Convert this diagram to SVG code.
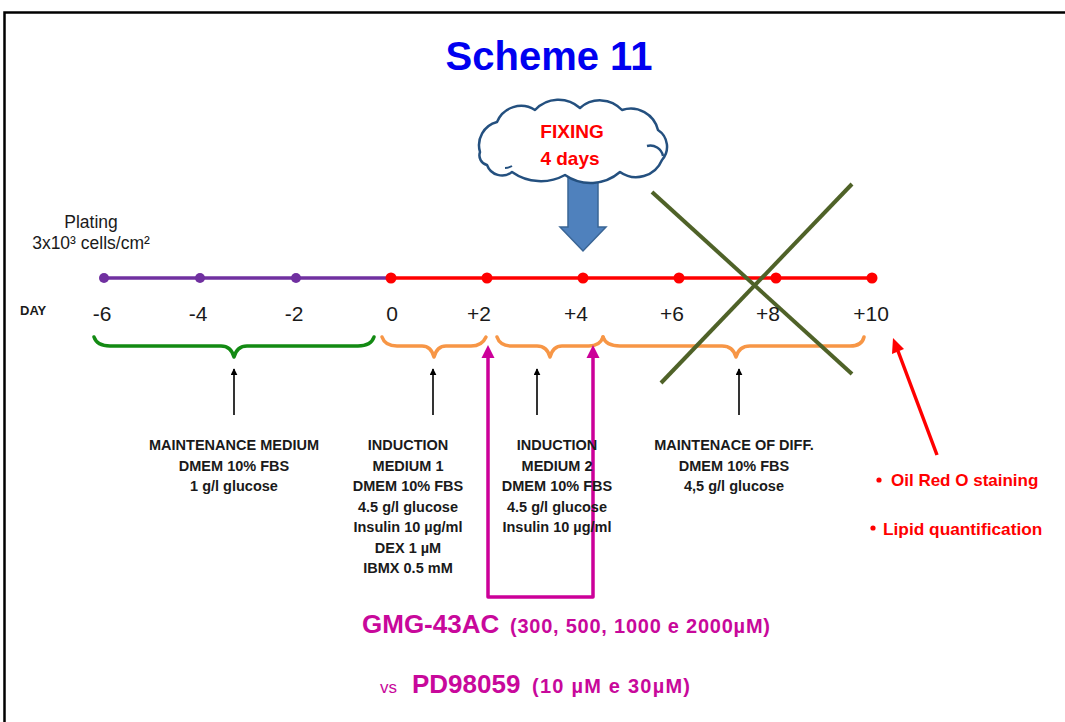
<svg xmlns="http://www.w3.org/2000/svg" width="1065" height="722" viewBox="0 0 1065 722">
<style>
.t{font-family:"Liberation Sans",Arial,sans-serif;fill:#1a1a1a}
.b{font-weight:bold}
.lbl{font-family:"Liberation Sans",Arial,sans-serif;font-weight:bold;font-size:14.5px;fill:#1a1a1a;text-anchor:middle}
.num{font-family:"Liberation Sans",Arial,sans-serif;font-size:21px;fill:#1a1a1a;text-anchor:middle}
.red{font-family:"Liberation Sans",Arial,sans-serif;font-weight:bold;fill:#FF0000}
.mag{font-family:"Liberation Sans",Arial,sans-serif;fill:#C8089B}
.brace{fill:none;stroke-width:3.5;stroke-linecap:round;stroke-linejoin:round}
.blk{stroke:#000;stroke-width:1.6;fill:none}
</style>
<defs>
<marker id="ah" viewBox="0 0 10 10" refX="9" refY="5" markerWidth="7" markerHeight="7" markerUnits="userSpaceOnUse" orient="auto">
<path d="M0,0 L10,5 L0,10 z" fill="#000"/>
</marker>
</defs>
<rect x="4.5" y="12.5" width="1100" height="800" fill="#fff" stroke="#000" stroke-width="2.5"/>

<g id="title"><text x="549" y="70" text-anchor="middle" font-family="Liberation Sans,Arial,sans-serif" font-weight="bold" font-size="40" fill="#0000F0">Scheme 11</text></g>

<g id="fix-arrow"><polygon points="568,176 598,176 598,227 606,227 583,251 560,227 568,227" fill="#4F81BD" stroke="#3A6595" stroke-width="1.5"/></g>

<g id="cloud">
<path d="M480,152 A24 24 0 0 1 497,122 A26 26 0 0 1 535,110 A32 32 0 0 1 580,108 A30 30 0 0 1 622,110 A28 28 0 0 1 658,130 A20 20 0 0 1 662,160 A28 28 0 0 1 620,172 A45 45 0 0 1 565,175 A50 50 0 0 1 512,172 A16 16 0 0 1 487,165 A10 10 0 0 1 480,152 Z" fill="#fff" stroke="#24507F" stroke-width="2.5" stroke-linejoin="round"/>
<path d="M647,146 A13 13 0 0 1 663,156" fill="none" stroke="#24507F" stroke-width="2.5"/>
<path d="M505,168 A14 14 0 0 0 512,166" fill="none" stroke="#24507F" stroke-width="2"/>
<text x="572" y="138" text-anchor="middle" class="red" font-size="19">FIXING</text>
<text x="570" y="165" text-anchor="middle" class="red" font-size="19">4 days</text>
</g>

<g id="plating">
<text x="91" y="228" text-anchor="middle" class="t" font-size="17.5">Plating</text>
<text x="91" y="249" text-anchor="middle" class="t" font-size="17.5">3x10³ cells/cm²</text>
</g>

<g id="connectors">
<line x1="104" y1="278" x2="390" y2="278" stroke="#7030A0" stroke-width="3.5"/>
<line x1="390" y1="278" x2="872" y2="278" stroke="#FF0000" stroke-width="3.5"/>
<g fill="#7030A0"><circle cx="104" cy="278" r="5"/><circle cx="200" cy="278" r="5"/><circle cx="296" cy="278" r="5"/></g>
<g fill="#FF0000"><circle cx="391" cy="278" r="5.5"/><circle cx="487" cy="278" r="5.5"/><circle cx="583" cy="278" r="5.5"/><circle cx="679" cy="278" r="5.5"/><circle cx="776" cy="278" r="5.5"/><circle cx="872" cy="278" r="5.5"/></g>

<path class="brace" stroke="#138A13" d="M94,337 Q97,346 110,346 L221,346 Q231,346 234,357 Q237,346 247,346 L358,346 Q371,346 374,337"/>
<path class="brace" stroke="#F79646" d="M382,337 Q385,346 397,346 L422,346 Q431,346 434,357 Q437,346 446,346 L471,346 Q482,346 486,337"/>
<path class="brace" stroke="#F79646" d="M497,337 Q500,346 512,346 L537,346 Q547,346 550,357 Q553,346 562,346 L589,346 Q600,346 603,337"/>
<path class="brace" stroke="#F79646" d="M603,337 Q606,346 620,346 L722,346 Q733,346 736,357 Q739,346 750,346 L850,346 Q862,346 864,337"/>

<line class="blk" x1="234" y1="415" x2="234" y2="369" marker-end="url(#ah)"/>
<line class="blk" x1="433" y1="415" x2="433" y2="369" marker-end="url(#ah)"/>
<line class="blk" x1="537" y1="415" x2="537" y2="369" marker-end="url(#ah)"/>
<line class="blk" x1="739" y1="415" x2="739" y2="369" marker-end="url(#ah)"/>

<path d="M488,356 V597 H593 V356" fill="none" stroke="#CC0099" stroke-width="3.5" stroke-linejoin="round"/>
<polygon points="488,345 494.5,358 481.5,358" fill="#CC0099"/>
<polygon points="593,345 599.5,358 586.5,358" fill="#CC0099"/>

<line x1="937" y1="455" x2="898" y2="351" stroke="#FF0000" stroke-width="3.5"/>
<polygon points="893,338 904,349 892,354" fill="#FF0000"/>
</g>

<g id="cross">
<line x1="652" y1="192" x2="852" y2="374" stroke="#4F6228" stroke-width="4"/>
<line x1="852" y1="184" x2="661" y2="383" stroke="#4F6228" stroke-width="4"/>
</g>

<g id="days">
<text x="20" y="315" class="t b" font-size="13">DAY</text>
<text x="102" y="321" class="num">-6</text>
<text x="198" y="321" class="num">-4</text>
<text x="294" y="321" class="num">-2</text>
<text x="392" y="321" class="num">0</text>
<text x="479" y="321" class="num">+2</text>
<text x="576" y="321" class="num">+4</text>
<text x="672" y="321" class="num">+6</text>
<text x="768" y="321" class="num">+8</text>
<text x="871" y="321" class="num">+10</text>
</g>

<g id="maintenance">
<text class="lbl" x="234" y="450">MAINTENANCE MEDIUM</text>
<text class="lbl" x="234" y="470.5">DMEM 10% FBS</text>
<text class="lbl" x="234" y="491">1 g/l glucose</text>
</g>
<g id="induction1">
<text class="lbl" x="408" y="450">INDUCTION</text>
<text class="lbl" x="408" y="470.5">MEDIUM 1</text>
<text class="lbl" x="408" y="491">DMEM 10% FBS</text>
<text class="lbl" x="408" y="511.5">4.5 g/l glucose</text>
<text class="lbl" x="408" y="532">Insulin 10 µg/ml</text>
<text class="lbl" x="408" y="552.5">DEX 1 µM</text>
<text class="lbl" x="408" y="573">IBMX 0.5 mM</text>
</g>
<g id="induction2">
<text class="lbl" x="557" y="450">INDUCTION</text>
<text class="lbl" x="557" y="470.5">MEDIUM 2</text>
<text class="lbl" x="557" y="491">DMEM 10% FBS</text>
<text class="lbl" x="557" y="511.5">4.5 g/l glucose</text>
<text class="lbl" x="557" y="532">Insulin 10 µg/ml</text>
</g>
<g id="maintdiff">
<text class="lbl" x="734" y="450">MAINTENACE OF DIFF.</text>
<text class="lbl" x="734" y="470.5">DMEM 10% FBS</text>
<text class="lbl" x="734" y="491">4,5 g/l glucose</text>
</g>

<g id="analysis">
<circle cx="879" cy="480" r="2.6" fill="#FF0000"/>
<text x="891" y="486" class="red" font-size="17">Oil Red O staining</text>
<circle cx="873" cy="528" r="2.6" fill="#FF0000"/>
<text x="883" y="535" class="red" font-size="17.3">Lipid quantification</text>
</g>

<g id="compounds">
<text x="362" y="633" class="mag" font-weight="bold" font-size="26">GMG-43AC</text>
<text x="510" y="633" class="mag" font-weight="bold" font-size="20" textLength="260" lengthAdjust="spacing">(300, 500, 1000 e 2000µM)</text>
<text x="380" y="693" class="mag" font-size="17">vs</text>
<text x="412" y="693" class="mag" font-weight="bold" font-size="26">PD98059</text>
<text x="532" y="693" class="mag" font-weight="bold" font-size="20" textLength="158" lengthAdjust="spacing">(10 µM e 30µM)</text>
</g>
</svg>
